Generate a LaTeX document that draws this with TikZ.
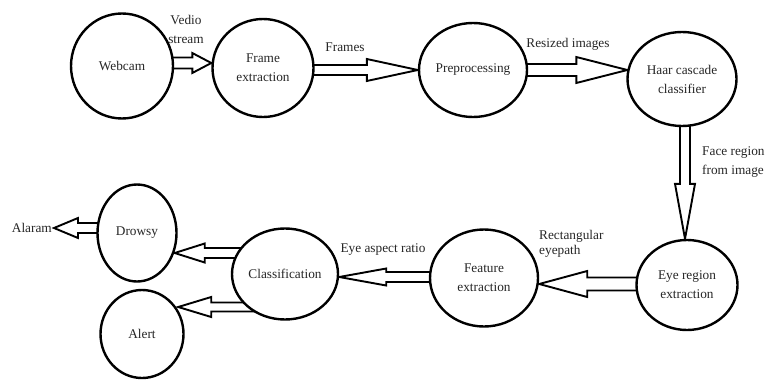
\documentclass[tikz,border=0pt]{standalone}
\usepackage{fontspec}
\setmainfont{Liberation Serif}
\usetikzlibrary{calc,backgrounds,shapes.geometric}
\tikzset{
  proc/.style={ellipse, draw, line width=2.4pt, fill=white, inner sep=0pt, align=center,
    text=black!85, font=\fontsize{13.3}{19}\selectfont},
  lbl/.style={inner sep=0pt, align=center, text=black!85, font=\fontsize{13.3}{19}\selectfont},
  blk/.style={draw, line width=1.9pt, fill=white, line join=miter},
}
\newcommand\blockarr[5]{%
  \coordinate (hb) at ($(#2)!#5!(#1)$);
  \draw[blk] ($(#1)!#3!90:(#2)$) -- ($(hb)!#3!90:(#2)$) -- ($(hb)!#4!90:(#2)$) -- (#2)
    -- ($(hb)!#4!-90:(#2)$) -- ($(hb)!#3!-90:(#2)$) -- ($(#1)!#3!-90:(#2)$) -- cycle;}
\begin{document}
\begin{tikzpicture}[x=1pt,y=-1pt]
\useasboundingbox (0,0) rectangle (765,380);
% process nodes
\node[proc, minimum width=102pt, minimum height=105pt] (webcam) at (122,66) {Webcam};
\node[proc, minimum width=101pt, minimum height=98pt] (frame) at (263,68) {Frame\\extraction};
\node[proc, minimum width=108pt, minimum height=94pt] (prep) at (473,70) {Preprocessing};
\node[proc, minimum width=109pt, minimum height=94pt] (haar) at (682,79) {Haar cascade\\classifier};
\node[proc, minimum width=101pt, minimum height=90pt] (eye) at (687,285) {Eye region\\extraction};
\node[proc, minimum width=108pt, minimum height=97pt] (feature) at (484,278) {Feature\\extraction};
\node[proc, minimum width=106pt, minimum height=91pt] (class) at (285,274) {Classification};
\node[proc, minimum width=79pt, minimum height=97pt] (drowsy) at (137,233) {Drowsy};
\node[proc, minimum width=83pt, minimum height=88pt] (alert) at (142,334) {Alert};
\node[lbl, anchor=east] (alaram) at (52,228) {Alaram};
% labels
\node[lbl] (lvs) at (186,29) {Vedio\\stream};
\node[lbl] (lfr) at (345,47) {Frames};
\node[lbl] (lri) at (568,44) {Resized images};
\node[lbl, anchor=west, align=left] (lfrg) at (702,162) {Face region\\from image};
\node[lbl, anchor=west, align=left, font=\fontsize{13.3}{15}\selectfont] (lre) at (539,244) {Rectangular\\eyepath};
\node[lbl] (lea) at (383,250) {Eye aspect ratio};
% anchor points of the block arrows
\coordinate (s1) at ($(webcam.center)+(0,-3)$);  \coordinate (t1) at ($(frame.west)+(0,-5)$);
\coordinate (s2) at ($(frame.center)+(0,2)$);    \coordinate (t2) at (prep.west);
\coordinate (s3) at (prep.center);               \coordinate (t3) at ($(haar.west)+(1,-9)$);
\coordinate (s4) at ($(haar.center)+(3,0)$);     \coordinate (t4) at ($(eye.north)+(-2,0)$);
\coordinate (s5) at ($(eye.center)+(0,-1)$);     \coordinate (t5) at ($(feature.east)+(0,6)$);
\coordinate (s6) at ($(feature.center)+(0,-1)$); \coordinate (t6) at ($(class.east)+(0,3)$);
\coordinate (s7) at ($(class.center)+(0,-21)$);  \coordinate (t7) at ($(drowsy.east)+(-3,20)$);
\coordinate (s8) at ($(class.center)+(0,33)$);   \coordinate (t8) at ($(alert.east)+(-6.5,-27)$);
\coordinate (s9) at ($(drowsy.center)+(0,-5)$);  \coordinate (t9) at ($(alaram.east)+(2,0)$);
\begin{scope}[on background layer]
  \fill[white] (0,0) rectangle (765,380);
  \blockarr{s1}{t1}{5.5pt}{10pt}{19pt}
  \blockarr{s2}{t2}{5pt}{11pt}{51pt}
  \blockarr{s3}{t3}{6pt}{13pt}{51pt}
  \blockarr{s4}{t4}{5pt}{10pt}{55pt}
  \blockarr{s5}{t5}{6.5pt}{13pt}{48pt}
  \blockarr{s6}{t6}{5pt}{8.5pt}{47pt}
  \blockarr{s7}{t7}{5pt}{9.5pt}{30pt}
  \blockarr{s8}{t8}{4.5pt}{10pt}{33pt}
  \blockarr{s9}{t9}{5pt}{10pt}{24pt}
\end{scope}
\end{tikzpicture}
\end{document}
